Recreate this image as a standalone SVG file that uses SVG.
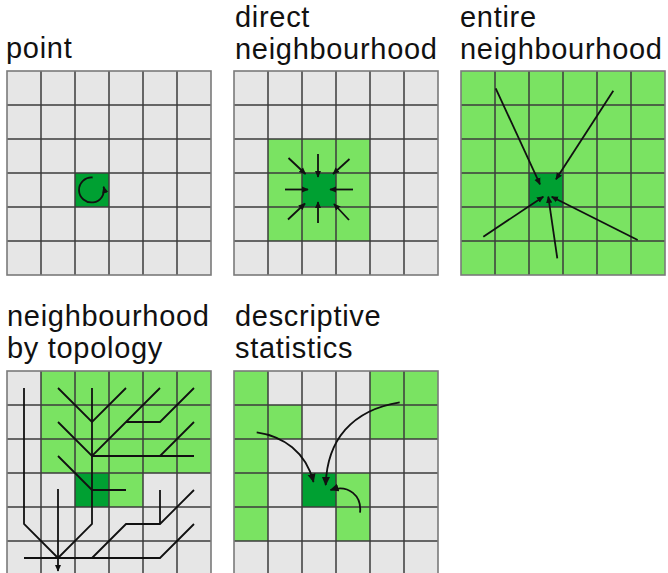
<svg xmlns="http://www.w3.org/2000/svg" width="668" height="573" viewBox="0 0 668 573">
<style>
  .lbl { font-family: "Liberation Sans", Arial, Helvetica, sans-serif; font-size: 29px; letter-spacing: 0.7px; fill: #111; }
  .bg { fill: #e6e6e6; }
  .lg { fill: #7ae362; }
  .dg { fill: #00a032; }
  .gl { fill: none; stroke: #3c3c3c; stroke-width: 1.5; }
  .gb { fill: none; stroke: #7a7a7a; stroke-width: 1.6; }
  .ar { fill: none; stroke: #111; stroke-width: 1.8; }
  .ln { fill: none; stroke: #111; stroke-width: 1.8; stroke-linejoin: miter; }
</style>
<defs>
  <g id="grid">
    <path class="gl" d="M34,0V204M68,0V204M102,0V204M136,0V204M170,0V204M0,34H204M0,68H204M0,102H204M0,136H204M0,170H204"/>
    <rect class="gb" x="0" y="0" width="204" height="204"/>
  </g>
  <marker id="ah" viewBox="0 0 10 10" refX="9" refY="5" markerWidth="7" markerHeight="7" markerUnits="userSpaceOnUse" orient="auto">
    <path d="M0,0.5 L10,5 L0,9.5 z" fill="#111"/>
  </marker>
  <marker id="ahl" viewBox="0 0 10 10" refX="9" refY="5" markerWidth="9" markerHeight="9" markerUnits="userSpaceOnUse" orient="auto">
    <path d="M0,0.5 L10,5 L0,9.5 z" fill="#111"/>
  </marker>
</defs>

<g id="point">
  <text class="lbl" x="6" y="58">point</text>
  <rect class="bg" x="7" y="71" width="204" height="204"/>
  <rect class="dg" x="75" y="173" width="34" height="34"/>
  <use href="#grid" x="7" y="71"/>
  <path class="ar" marker-end="url(#ah)" d="M92.6,177.5 A12.5,12.5 0 1 0 103.6,186.8"/>
</g>

<g id="direct-neighbourhood">
  <text class="lbl" x="235" y="26.8">direct<tspan x="235" dy="32.4">neighbourhood</tspan></text>
  <rect class="bg" x="234" y="71" width="204" height="204"/>
  <rect class="lg" x="268" y="139" width="102" height="102"/>
  <rect class="dg" x="302" y="173" width="34" height="34"/>
  <use href="#grid" x="234" y="71"/>
  <g marker-end="url(#ah)">
    <path class="ar" d="M318,154 L318,177"/>
    <path class="ar" d="M318,223 L318,202"/>
    <path class="ar" d="M285,189.5 L308,189.5"/>
    <path class="ar" d="M353,189.5 L330,189.5"/>
    <path class="ar" d="M288.5,158 L305.5,174"/>
    <path class="ar" d="M349.5,159 L333,174"/>
    <path class="ar" d="M288,219.5 L305,203.5"/>
    <path class="ar" d="M349,220 L334,204"/>
  </g>
</g>

<g id="entire-neighbourhood">
  <text class="lbl" x="460" y="26.8">entire<tspan x="460" dy="32.4">neighbourhood</tspan></text>
  <rect class="lg" x="461" y="71" width="204" height="204"/>
  <rect class="dg" x="529" y="173" width="34" height="34"/>
  <use href="#grid" x="461" y="71"/>
  <g marker-end="url(#ah)">
    <path class="ar" d="M495.7,88.3 L540,184.3"/>
    <path class="ar" d="M613.3,90.7 L556,179.3"/>
    <path class="ar" d="M483.3,236.7 L543.3,196.7"/>
    <path class="ar" d="M557.3,258.3 L548.3,196.7"/>
    <path class="ar" d="M637.7,240 L551.7,196.7"/>
  </g>
</g>

<g id="neighbourhood-by-topology">
  <text class="lbl" x="7" y="326">neighbourhood<tspan x="7" dy="32.4">by topology</tspan></text>
  <rect class="bg" x="7" y="371" width="204" height="204"/>
  <rect class="lg" x="41" y="371" width="170" height="102"/>
  <rect class="lg" x="109" y="473" width="34" height="34"/>
  <rect class="dg" x="75" y="473" width="34" height="34"/>
  <use href="#grid" x="7" y="371"/>
  <path class="ln" d="M24,388 V524 L58,558"/>
  <path class="ln" d="M92,388 V524 L58,558"/>
  <path class="ln" d="M58,388 L92,422 L126,388"/>
  <path class="ln" d="M58,422 L92,456 L160,388"/>
  <path class="ln" d="M126,422 H160 L194,388"/>
  <path class="ln" d="M92,456 H194"/>
  <path class="ln" d="M160,456 L194,422"/>
  <path class="ln" d="M58,456 L92,490 H126"/>
  <path class="ln" d="M24,558 H160 L194,524"/>
  <path class="ln" d="M92,558 L126,524 H160 L194,490"/>
  <path class="ln" d="M160,490 V524"/>
  <path class="ln" marker-end="url(#ah)" d="M58,489 V571"/>
</g>

<g id="descriptive-statistics">
  <text class="lbl" x="235" y="326">descriptive<tspan x="235" dy="32.4">statistics</tspan></text>
  <rect class="bg" x="234" y="371" width="204" height="204"/>
  <rect class="lg" x="234" y="371" width="34" height="170"/>
  <rect class="lg" x="268" y="405" width="34" height="34"/>
  <rect class="lg" x="370" y="371" width="68" height="68"/>
  <rect class="lg" x="336" y="473" width="34" height="68"/>
  <rect class="dg" x="302" y="473" width="34" height="34"/>
  <use href="#grid" x="234" y="371"/>
  <g marker-end="url(#ahl)">
    <path class="ar" d="M256.7,432.3 C283,436 306,452 313.5,482"/>
    <path class="ar" d="M399.7,402.3 C352,410 327,440 325.7,485"/>
    <path class="ar" d="M360,512.7 C362,496 349,484 330.5,490"/>
  </g>
</g>
</svg>
